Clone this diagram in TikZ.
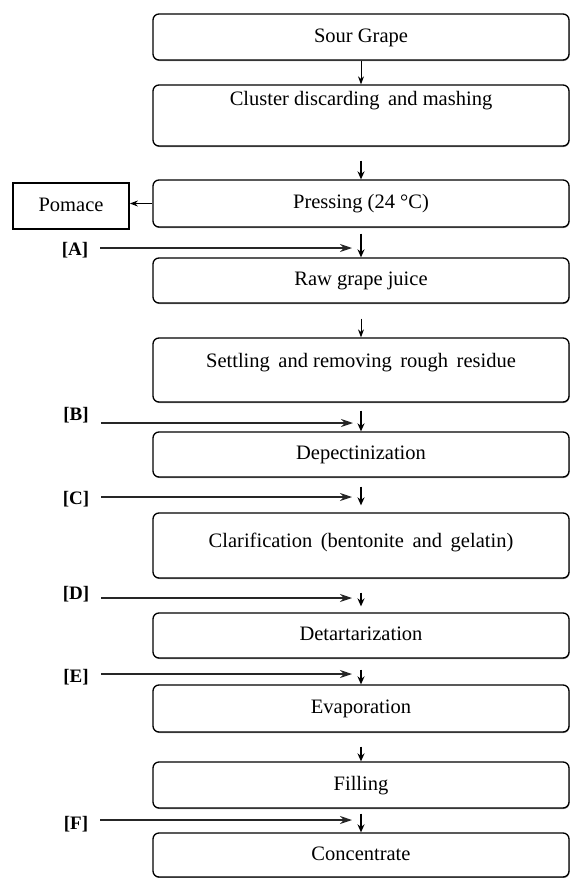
\documentclass[tikz,border=0pt]{standalone}
\usepackage{fontspec}
\setmainfont{Liberation Serif}
\usetikzlibrary{arrows.meta,shadows}
\begin{document}
\begin{tikzpicture}[x=1pt,y=-1pt,
  stepbox/.style={draw=black, line width=1.3pt, rounded corners=6pt,
    minimum width=416pt, inner sep=0pt, fill=white,
    text height=14pt, text depth=4pt,
    font=\fontsize{20.5}{24}\selectfont,
    drop shadow={shadow xshift=0.5pt, shadow yshift=-1pt, fill=black!45, opacity=1}},
  sidebox/.style={draw=black, line width=1.8pt, minimum width=116pt,
    minimum height=46pt, inner sep=0pt, fill=white,
    text height=14pt, text depth=4pt,
    font=\fontsize{20.5}{24}\selectfont,
    drop shadow={shadow xshift=0.6pt, shadow yshift=-1pt, fill=black!45, opacity=1}},
  lab/.style={inner sep=0pt, font=\bfseries\fontsize{19}{22}\selectfont},
  thinarr/.style={-{Stealth[length=8pt,width=6pt]}, line width=1pt},
  thickarr/.style={-{Stealth[length=8pt,width=7pt]}, line width=2pt},
  inarr/.style={-{Stealth[length=12pt,width=8pt]}, line width=1.2pt, black!85},
]
\useasboundingbox (0,0) rectangle (571,878);

% process boxes
\node[stepbox, minimum height=46pt] (sour) at (361,37) {Sour Grape};
\node[stepbox, minimum height=61pt, text depth=35pt] (cluster) at (361,115.5) {Cluster discarding\, and mashing};
\node[stepbox, minimum height=47pt] (press) at (361,203.5) {Pressing (24 °C)};
\node[sidebox] (pomace) at (71,206) {Pomace};
\node[stepbox, minimum height=45pt] (raw) at (361,280.5) {Raw grape juice};
\node[stepbox, minimum height=64pt, text depth=20pt] (settle) at (361,370) {Settling\, and removing\, rough\, residue};
\node[stepbox, minimum height=45pt] (depect) at (361,454.5) {Depectinization};
\node[stepbox, minimum height=65pt, text depth=11pt] (clar) at (361,545.5) {Clarification\, (bentonite\, and\, gelatin)};
\node[stepbox, minimum height=45pt] (detart) at (361,635.5) {Detartarization};
\node[stepbox, minimum height=47pt] (evap) at (361,708.5) {Evaporation};
\node[stepbox, minimum height=46pt] (fill) at (361,785) {Filling};
\node[stepbox, minimum height=44pt] (conc) at (361,855) {Concentrate};

% main flow
\draw[thinarr] (sour.south) -- (cluster.north);
\draw[thickarr, shorten <=14pt] (cluster.south) -- (press.north);
\draw[thinarr] (press.west) -- (press.west -| pomace.east);
\draw[thickarr, shorten <=6pt] (press.south) -- (raw.north);
\draw[thinarr, shorten <=15pt] (raw.south) -- (settle.north);
\draw[thickarr, shorten <=8pt] (settle.south) -- (depect.north);
\draw[thickarr, shorten <=9pt, shorten >=7pt] (depect.south) -- (clar.north);
\draw[thickarr, shorten <=14pt, shorten >=6pt] (clar.south) -- (detart.north);
\draw[thickarr, shorten <=11pt] (detart.south) -- (evap.north);
\draw[thickarr, shorten <=14pt] (evap.south) -- (fill.north);
\draw[thickarr, shorten <=5pt] (fill.south) -- (conc.north);

% additions
\node[lab] (lA) at (75,250) {[A]};
\node[lab] (lB) at (76,415) {[B]};
\node[lab] (lC) at (76,499) {[C]};
\node[lab] (lD) at (76,594) {[D]};
\node[lab] (lE) at (76,677) {[E]};
\node[lab] (lF) at (76,824) {[F]};
\coordinate (tA) at (352,248);
\coordinate (tB) at (353,423);
\coordinate (tC) at (352,497);
\coordinate (tD) at (352,598);
\coordinate (tE) at (352,674);
\coordinate (tF) at (352,820);
\foreach \l/\t in {lA/tA,lB/tB,lC/tC,lD/tD,lE/tE,lF/tF}{
  \draw[inarr, shorten <=12pt] (\l.east |- \t) -- (\t);
}
\end{tikzpicture}
\end{document}
